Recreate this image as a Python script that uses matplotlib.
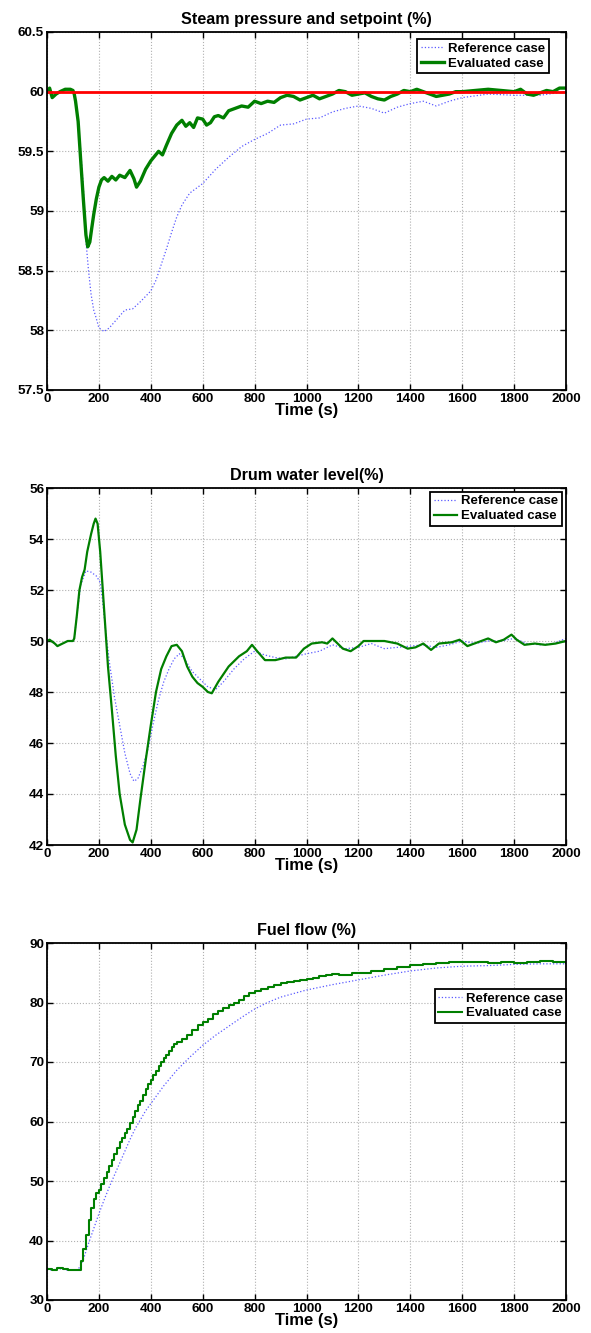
import matplotlib
matplotlib.use("Agg")
import matplotlib.pyplot as plt
from matplotlib.ticker import FuncFormatter

plt.rcParams['font.family'] = ['Liberation Sans', 'DejaVu Sans']
plt.rcParams['font.weight'] = 'bold'

# ---------------- data ----------------
# Steam pressure
p_eval_t = [0, 10, 20, 35, 50, 70, 90, 100, 105, 110, 120, 130, 140, 150, 157, 165, 172, 180, 190, 200, 210, 220,
            235, 250, 265, 280, 300, 320, 335, 345, 360, 380, 400, 415, 430, 445, 460, 480, 500, 520, 535, 550,
            565, 580, 600, 615, 630, 645, 660, 680, 700, 725, 750, 775, 800, 825, 850, 875, 900, 925, 950, 975,
            1000, 1025, 1050, 1075, 1100, 1125, 1150, 1175, 1200, 1225, 1250, 1275, 1300, 1325, 1350, 1375,
            1400, 1425, 1450, 1475, 1500, 1525, 1550, 1575, 1600, 1650, 1700, 1750, 1800, 1825, 1850, 1875,
            1900, 1925, 1950, 1975, 2000]
p_eval_v = [60.0, 60.03, 59.95, 59.98, 60.0, 60.02, 60.02, 60.01, 59.98, 59.92, 59.75, 59.42, 59.1, 58.8, 58.7,
            58.74, 58.85, 58.97, 59.1, 59.2, 59.26, 59.28, 59.25, 59.29, 59.26, 59.3, 59.28, 59.34, 59.27, 59.2,
            59.25, 59.35, 59.42, 59.46, 59.5, 59.47, 59.55, 59.65, 59.72, 59.76, 59.71, 59.74, 59.7, 59.78,
            59.77, 59.72, 59.74, 59.79, 59.8, 59.78, 59.84, 59.86, 59.88, 59.87, 59.92, 59.9, 59.92, 59.91,
            59.95, 59.97, 59.96, 59.93, 59.95, 59.97, 59.94, 59.96, 59.98, 60.01, 60.0, 59.97, 59.98, 59.99,
            59.96, 59.94, 59.93, 59.96, 59.98, 60.01, 60.0, 60.02, 60.0, 59.98, 59.96, 59.97, 59.98, 60.0,
            60.0, 60.01, 60.02, 60.01, 60.0, 60.02, 59.98, 59.97, 59.99, 60.01, 60.0, 60.03, 60.03]
p_ref_t = [0, 10, 20, 35, 50, 70, 90, 100, 105, 110, 120, 130, 140, 150, 160, 170, 180, 190, 200, 220, 240, 260,
           280, 300, 330, 360, 400, 420, 440, 460, 480, 500, 520, 550, 600, 650, 700, 750, 800, 850, 900, 950,
           1000, 1050, 1100, 1150, 1200, 1250, 1300, 1350, 1400, 1450, 1500, 1550, 1600, 1700, 1800, 1900, 2000]
p_ref_v = [60.0, 60.03, 59.95, 59.98, 60.0, 60.02, 60.02, 60.01, 59.98, 59.92, 59.75, 59.5, 59.2, 58.75, 58.5,
           58.3, 58.17, 58.1, 58.02, 57.99, 58.02, 58.07, 58.12, 58.17, 58.18, 58.24, 58.33, 58.42, 58.55, 58.68,
           58.82, 58.95, 59.05, 59.15, 59.23, 59.35, 59.45, 59.54, 59.6, 59.65, 59.72, 59.73, 59.77, 59.78,
           59.83, 59.86, 59.88, 59.86, 59.82, 59.87, 59.9, 59.92, 59.88, 59.92, 59.95, 59.98, 59.97, 59.97, 60.0]
p_set_t = [0, 2000]
p_set_v = [60.0, 60.0]

# Drum water level
l_eval_t = [0, 10, 30, 40, 60, 80, 100, 105, 115, 125, 135, 145, 155, 170, 180, 187, 195, 205, 215, 225, 235,
            250, 265, 280, 300, 320, 330, 345, 360, 380, 400, 420, 440, 460, 480, 500, 520, 540, 560, 580, 600,
            620, 635, 660, 700, 740, 770, 790, 810, 840, 880, 920, 960, 990, 1020, 1060, 1080, 1100, 1140, 1170,
            1200, 1220, 1300, 1350, 1390, 1420, 1450, 1480, 1510, 1560, 1590, 1620, 1660, 1700, 1730, 1760,
            1790, 1810, 1840, 1880, 1920, 1960, 2000]
l_eval_v = [50.0, 50.05, 49.9, 49.8, 49.9, 50.0, 50.0, 50.1, 51.0, 52.0, 52.5, 52.8, 53.5, 54.2, 54.6, 54.8,
            54.6, 53.5, 52.0, 50.5, 49.0, 47.3, 45.5, 44.0, 42.8, 42.2, 42.1, 42.6, 43.8, 45.3, 46.7, 48.0, 48.9,
            49.4, 49.8, 49.85, 49.6, 49.0, 48.6, 48.35, 48.2, 48.0, 47.95, 48.4, 49.0, 49.4, 49.6, 49.85, 49.6,
            49.25, 49.25, 49.35, 49.35, 49.7, 49.9, 49.95, 49.9, 50.1, 49.7, 49.6, 49.8, 50.0, 50.0, 49.9,
            49.7, 49.75, 49.9, 49.65, 49.9, 49.95, 50.05, 49.8, 49.95, 50.1, 49.95, 50.05, 50.25, 50.05, 49.85,
            49.9, 49.85, 49.9, 50.0]
l_ref_t = [0, 10, 30, 40, 60, 80, 100, 105, 115, 130, 150, 170, 190, 205, 215, 225, 240, 260, 280, 300, 320,
           335, 350, 370, 390, 410, 430, 450, 470, 490, 510, 530, 560, 590, 620, 650, 680, 720, 760, 800, 840,
           880, 920, 960, 1000, 1050, 1100, 1150, 1200, 1250, 1300, 1350, 1400, 1450, 1500, 1550, 1600, 1650,
           1700, 1750, 1800, 1850, 1900, 1950, 2000]
l_ref_v = [50.0, 50.05, 49.9, 49.8, 49.9, 50.0, 50.0, 50.1, 51.0, 52.2, 52.75, 52.7, 52.55, 52.3, 51.5, 50.5,
           49.2, 47.8, 46.7, 45.6, 44.8, 44.5, 44.6, 45.1, 45.8, 46.8, 47.7, 48.4, 48.9, 49.3, 49.5, 49.3, 48.8,
           48.5, 48.2, 48.1, 48.4, 48.9, 49.3, 49.6, 49.45, 49.35, 49.3, 49.4, 49.5, 49.6, 49.85, 49.7, 49.75,
           49.9, 49.7, 49.75, 49.8, 49.85, 49.75, 49.85, 50.0, 49.9, 50.0, 50.0, 50.1, 49.9, 49.85, 49.9, 50.1]

# Fuel flow
f_eval_t = [0, 20, 40, 60, 80, 100, 120, 130, 140, 150, 160, 170, 180, 190, 200, 210, 220, 230, 240, 250, 260,
            270, 280, 290, 300, 310, 320, 330, 340, 350, 360, 370, 380, 390, 400, 410, 420, 430, 440, 450, 460,
            470, 480, 490, 500, 520, 540, 560, 580, 600, 620, 640, 660, 680, 700, 720, 740, 760, 780, 800, 825,
            850, 875, 900, 925, 950, 975, 1000, 1025, 1050, 1075, 1100, 1125, 1150, 1175, 1200, 1250, 1300,
            1350, 1400, 1450, 1500, 1550, 1600, 1650, 1700, 1750, 1800, 1850, 1900, 1950, 2000]
f_eval_v = [35.2, 35.0, 35.3, 35.2, 35.0, 35.0, 35.1, 36.5, 38.5, 41.0, 43.5, 45.5, 47.0, 48.0, 48.5, 49.5,
            50.5, 51.5, 52.5, 53.5, 54.5, 55.5, 56.5, 57.3, 58.0, 58.8, 59.8, 60.8, 61.8, 62.7, 63.5, 64.5,
            65.5, 66.3, 67.0, 67.8, 68.5, 69.3, 70.0, 70.6, 71.2, 71.9, 72.5, 73.0, 73.3, 73.8, 74.6, 75.4, 76.2,
            76.7, 77.2, 78.0, 78.5, 79.1, 79.6, 80.0, 80.5, 81.1, 81.6, 81.9, 82.2, 82.6, 82.9, 83.2, 83.4,
            83.6, 83.8, 84.0, 84.2, 84.4, 84.6, 84.8, 84.6, 84.7, 84.9, 85.0, 85.3, 85.7, 86.0, 86.3, 86.4,
            86.6, 86.8, 86.8, 86.8, 86.6, 86.8, 86.7, 86.8, 87.0, 86.8, 86.7]
f_ref_t = [0, 20, 40, 60, 80, 100, 120, 140, 160, 180, 200, 220, 240, 260, 280, 300, 320, 340, 360, 380, 400,
           450, 500, 550, 600, 650, 700, 750, 800, 850, 900, 950, 1000, 1100, 1200, 1300, 1400, 1500, 1600, 1700,
           1800, 1900, 2000]
f_ref_v = [35.2, 35.0, 35.3, 35.2, 35.0, 35.0, 35.1, 36.8, 39.5, 42.0, 44.5, 46.8, 49.0, 51.0, 53.0, 55.0, 57.0,
           58.8, 60.3, 61.8, 63.0, 66.0, 68.6, 70.8, 72.8, 74.5, 76.0, 77.5, 78.9, 80.0, 80.9, 81.5, 82.1, 83.0,
           83.8, 84.6, 85.3, 85.8, 86.1, 86.2, 86.4, 86.5, 86.5]

titles = ["Steam pressure and setpoint (%)", "Drum water level(%)", "Fuel flow (%)"]
legend_labels = ["Reference case", "Evaluated case"]
xlabel = "Time (s)"
x_ticks = [0, 200, 400, 600, 800, 1000, 1200, 1400, 1600, 1800, 2000]
y_ticks = [[57.5, 58, 58.5, 59, 59.5, 60, 60.5],
           [42, 44, 46, 48, 50, 52, 54, 56],
           [30, 40, 50, 60, 70, 80, 90]]

# ---------------- figure ----------------
W, H = 591, 1333
fig = plt.figure(figsize=(W / 100, H / 100), dpi=100)

def pos(top_px, bot_px):
    left, right = 47, 566
    return [left / W, 1 - bot_px / H, (right - left) / W, (bot_px - top_px) / H]

axes = [fig.add_axes(pos(32, 390)), fig.add_axes(pos(488, 845)), fig.add_axes(pos(943, 1300))]

ref_color = '#5a5aff'
eval_color = '#007f00'

data = [(p_ref_t, p_ref_v, p_eval_t, p_eval_v), (l_ref_t, l_ref_v, l_eval_t, l_eval_v),
        (f_ref_t, f_ref_v, f_eval_t, f_eval_v)]
eval_lw = [2.4, 1.6, 1.5]
legend_anchor = [(0.967, 0.980), (0.992, 0.989), (1.0, 0.871)]

fmt = FuncFormatter(lambda v, p: "%g" % v)

for i, ax in enumerate(axes):
    rt, rv, et, ev = data[i]
    ds = 'steps-post' if i == 2 else 'default'
    ax.plot(rt, rv, linestyle=':', color=ref_color, lw=0.9, label=legend_labels[0])
    ax.plot(et, ev, linestyle='-', color=eval_color, lw=eval_lw[i], label=legend_labels[1], drawstyle=ds)
    if i == 0:
        ax.plot(p_set_t, p_set_v, color='red', lw=2.0)
    ax.set_xlim(0, 2000)
    ax.set_ylim(y_ticks[i][0], y_ticks[i][-1])
    ax.set_xticks(x_ticks)
    ax.set_yticks(y_ticks[i])
    ax.yaxis.set_major_formatter(fmt)
    ax.grid(True, linestyle=':', color='#b0b0b0', lw=0.8)
    ax.tick_params(direction='in', top=True, right=True, length=4, width=1.0, labelsize=9.7, pad=2)
    for lab in ax.get_xticklabels() + ax.get_yticklabels():
        lab.set_fontweight('bold')
    for s in ax.spines.values():
        s.set_linewidth(1.3)
    ax.set_title(titles[i], fontsize=11.6, fontweight='bold', pad=6)
    ax.set_xlabel(xlabel, fontsize=12, fontweight='bold', labelpad=-1)
    leg = ax.legend(loc='upper right', bbox_to_anchor=legend_anchor[i], borderaxespad=0, fancybox=False,
                    framealpha=1, edgecolor='black', handlelength=1.8, handletextpad=0.3, borderpad=0.25,
                    labelspacing=0.2, prop={'weight': 'bold', 'size': 9.5})
    leg.get_frame().set_linewidth(1.3)

fig.savefig("out.png", dpi=100)
